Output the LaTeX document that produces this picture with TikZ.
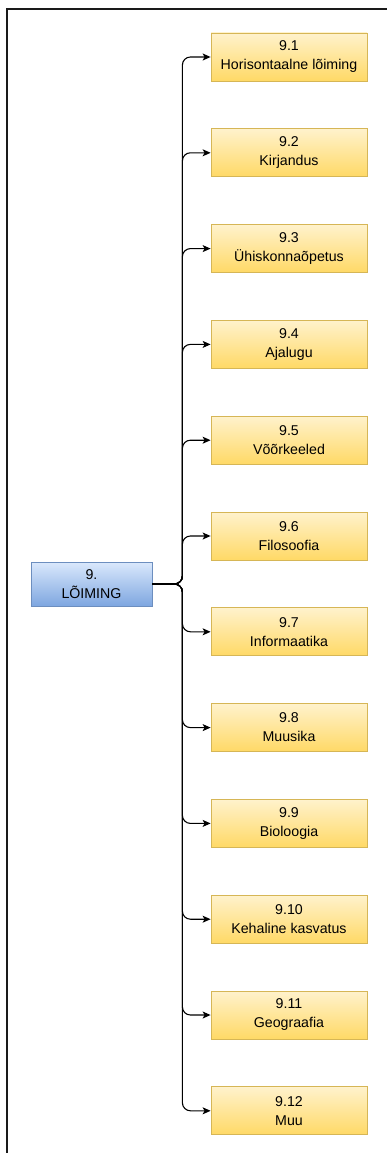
\documentclass[tikz,border=0pt]{standalone}
\usepackage{fontspec}
\setmainfont{Liberation Sans}
\usetikzlibrary{arrows.meta}
\definecolor{yfillA}{HTML}{FFF2CC}
\definecolor{yfillB}{HTML}{FFD966}
\definecolor{ystroke}{HTML}{D6B656}
\definecolor{bfillA}{HTML}{DAE8FC}
\definecolor{bfillB}{HTML}{7EA6E0}
\definecolor{bstroke}{HTML}{6C8EBF}
\definecolor{framec}{HTML}{1A1A1A}
\tikzset{
  topic/.style={draw=ystroke, line width=0.8pt, top color=yfillA, bottom color=yfillB,
    minimum width=156pt, minimum height=48pt, inner sep=0pt, align=center,
    font=\fontsize{14.2}{19}\selectfont},
  rootbox/.style={draw=bstroke, line width=0.8pt, top color=bfillA, bottom color=bfillB,
    minimum width=121pt, minimum height=44pt, inner sep=0pt, align=center,
    font=\fontsize{14.2}{19}\selectfont},
  conn/.style={draw=black, line width=1.1pt, rounded corners=8pt,
    -{Stealth[length=8pt,width=7pt,inset=2pt]}},
  frameline/.style={draw=framec, line width=1.2pt}
}
\begin{document}
\begin{tikzpicture}[x=1pt,y=-1pt]
\useasboundingbox (0,0) rectangle (387,1153);
% outer frame (open to the right and bottom)
\draw[frameline] (7,1153) -- (7,9) -- (387,9);
% root
\node[rootbox] (root) at (91.5,584) {9.\\LÕIMING};
% topics
\foreach \i/\t in {1/Horisontaalne lõiming, 2/Kirjandus, 3/Ühiskonnaõpetus, 4/Ajalugu,
  5/Võõrkeeled, 6/Filosoofia, 7/Informaatika, 8/Muusika, 9/Bioloogia,
  10/Kehaline kasvatus, 11/Geograafia, 12/Muu}{
  \node[topic] (t\i) at (289,{57+95.8*(\i-1)}) {9.\i\\\t};
  \draw[conn] (root.east) -- ++(30,0) |- (t\i.west);
}
\end{tikzpicture}
\end{document}
